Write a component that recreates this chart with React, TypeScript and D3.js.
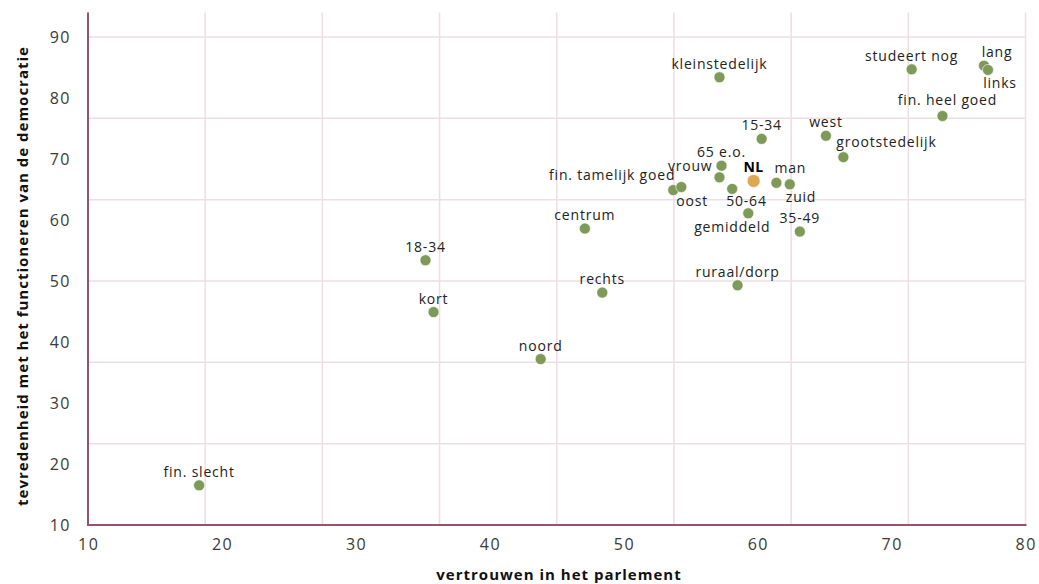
import React from "react";
import * as d3 from "d3";

const labels = ["fin. slecht","18-34","kort","noord","centrum","rechts","fin. tamelijk goed","oost","kleinstedelijk","65 e.o.","vrouw","50-64","NL","gemiddeld","man","zuid","15-34","35-49","ruraal/dorp","west","grootstedelijk","studeert nog","lang","links","fin. heel goed"];
const trustParliament = [18.3,35.2,35.8,43.8,47.1,48.4,53.7,54.3,57.15,57.3,57.15,58.1,59.7,59.3,61.4,62.4,60.3,63.15,58.5,65.1,66.4,71.5,76.9,77.2,73.8];
const satisfactionDemocracy = [16.5,53.4,44.9,37.2,58.6,48.1,64.9,65.4,83.4,68.9,67.0,65.1,66.4,61.1,66.1,65.85,73.3,58.1,49.3,73.8,70.3,84.7,85.3,84.6,77.05];
const xTicks = [10,20,30,40,50,60,70,80];
const yTicks = [10,20,30,40,50,60,70,80,90];
const xTitle = "vertrouwen in het parlement";
const yTitle = "tevredenheid met het functioneren van de democratie";
const highlight = "NL";

// label placement: [anchor, dx, dy]
const labelPlacement: Record<string, [string, number, number]> = {
  "fin. tamelijk goed": ["end", 2, -10],
  "oost": ["start", -5, 19],
  "vrouw": ["end", -7, -6],
  "50-64": ["start", -6, 17],
  "gemiddeld": ["middle", -16, 19],
  "man": ["start", -2, -10],
  "zuid": ["start", -4, 18],
  "lang": ["middle", 13, -9],
  "links": ["middle", 12, 18],
  "fin. heel goed": ["middle", 5, -11],
  "grootstedelijk": ["start", -7, -10],
};

const FONT = "'Open Sans', 'Noto Sans', sans-serif";

export default function App() {
  const W = 1039, H = 584;
  const x = d3.scaleLinear().domain([10, 80]).range([88, 1025.5]);
  const y = d3.scaleLinear().domain([10, 90]).range([525, 37]);
  const yTopVal = 94;
  const xGrid = d3.range(1, 9).map(i => 10 + (i * 70) / 8);
  const yGrid = d3.range(1, 7).map(i => 10 + (i * 80) / 6);
  const gridColor = "#eedde4";
  const axisColor = "#9a4f6d";
  const pts = labels.map((l, i) => ({ label: l, xv: trustParliament[i], yv: satisfactionDemocracy[i] }));
  const ordered = [...pts.filter(p => p.label !== highlight), ...pts.filter(p => p.label === highlight)];

  return (
    <svg width={W} height={H} style={{ position: "absolute", left: 0, top: 0, background: "#fff" }} fontFamily={FONT}>
      {xGrid.map((g, i) => (
        <line key={"xg" + i} x1={x(g)} x2={x(g)} y1={y(yTopVal)} y2={y(10)} stroke={gridColor} strokeWidth={1.5} />
      ))}
      {yGrid.map((g, i) => (
        <line key={"yg" + i} x1={x(10)} x2={x(80)} y1={y(g)} y2={y(g)} stroke={gridColor} strokeWidth={1.5} />
      ))}
      <line x1={x(10)} x2={x(10)} y1={y(yTopVal)} y2={y(10) + 1} stroke={axisColor} strokeWidth={2} />
      <line x1={x(10) - 1} x2={x(80) + 1} y1={y(10)} y2={y(10)} stroke={axisColor} strokeWidth={2} />
      {yTicks.map(t => (
        <text key={"yt" + t} x={71} y={y(t)} dy="0.35em" textAnchor="end" fontSize={16} fill="#3a3a3a" letterSpacing={1.5}>{t}</text>
      ))}
      {xTicks.map(t => (
        <text key={"xt" + t} x={x(t) + 0.7} y={550} textAnchor="middle" fontSize={16} fill="#3a3a3a" letterSpacing={1.5}>{t}</text>
      ))}
      <text x={559} y={580} textAnchor="middle" fontSize={15} fontWeight={700} fill="#111" letterSpacing={1}>{xTitle}</text>
      <text transform={`translate(28,${276}) rotate(-90)`} textAnchor="middle" fontSize={15} fontWeight={700} fill="#111" letterSpacing={1}>{yTitle}</text>
      {ordered.map(p => {
        const isH = p.label === highlight;
        return (
          <circle key={"c" + p.label} cx={x(p.xv)} cy={y(p.yv)} r={isH ? 6.5 : 5.5} fill={isH ? "#e0a752" : "#7e9a58"} stroke="#fff" strokeWidth={0.6} />
        );
      })}
      {pts.map(p => {
        const isH = p.label === highlight;
        const pl = labelPlacement[p.label] || ["middle", 0, -8.5];
        return (
          <text key={"l" + p.label} x={x(p.xv) + pl[1]} y={y(p.yv) + pl[2]} textAnchor={pl[0]} fontSize={14} fontWeight={isH ? 700 : 400} fill={isH ? "#000" : "#222"} letterSpacing={isH ? 0.5 : 0.8}>{p.label}</text>
        );
      })}
    </svg>
  );
}
